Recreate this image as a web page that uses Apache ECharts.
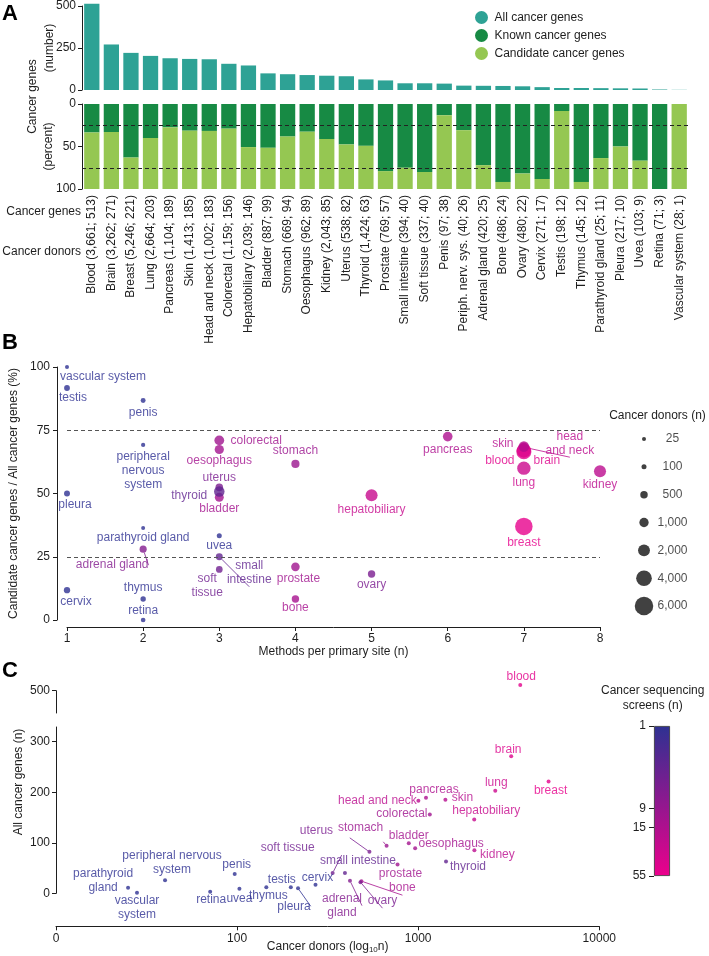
<!DOCTYPE html>
<html>
<head>
<meta charset="utf-8">
<script src="https://cdn.jsdelivr.net/npm/echarts@6/dist/echarts.min.js"></script>
<style>
  html, body { margin: 0; padding: 0; background: #fff; }
  #chart { width: 709px; height: 956px; }
</style>
</head>
<body>
<div id="chart"></div>
<script>
// ---- data ----
const siteLabels = ['Blood', 'Brain', 'Breast', 'Lung', 'Pancreas', 'Skin', 'Head and neck', 'Colorectal',
  'Hepatobiliary', 'Bladder', 'Stomach', 'Oesophagus', 'Kidney', 'Uterus', 'Thyroid', 'Prostate',
  'Small intestine', 'Soft tissue', 'Penis', 'Periph. nerv. sys.', 'Adrenal gland', 'Bone', 'Ovary',
  'Cervix', 'Testis', 'Thymus', 'Parathyroid gland', 'Pleura', 'Uvea', 'Retina', 'Vascular system'];
const siteNames = ['blood', 'brain', 'breast', 'lung', 'pancreas', 'skin', 'head and neck', 'colorectal',
  'hepatobiliary', 'bladder', 'stomach', 'oesophagus', 'kidney', 'uterus', 'thyroid', 'prostate',
  'small intestine', 'soft tissue', 'penis', 'peripheral nervous system', 'adrenal gland', 'bone', 'ovary',
  'cervix', 'testis', 'thymus', 'parathyroid gland', 'pleura', 'uvea', 'retina', 'vascular system'];
const donors = [3661, 3262, 5246, 2664, 1104, 1413, 1002, 1159, 2039, 887, 669, 962, 2043, 538, 1424, 769,
  394, 337, 97, 40, 420, 486, 480, 271, 198, 145, 25, 217, 103, 71, 28];
const genes = [513, 271, 221, 203, 189, 185, 183, 156, 146, 99, 94, 89, 85, 82, 63, 57,
  40, 40, 38, 26, 25, 24, 22, 17, 12, 12, 11, 10, 9, 3, 1];
// candidate share of all cancer genes (%), the rest are known cancer genes
const candidatePct = [66.5, 67, 37, 60, 72.5, 68.6, 68.3, 71, 49.3, 48.5, 61.7, 67.4, 58.8, 52.4, 50.8, 21,
  25, 20, 86.8, 69.2, 28, 8.3, 18.2, 11.8, 91.7, 8.3, 36.4, 50, 33.3, 0, 100];
const methods = [7, 7, 7, 7, 6, 7, 7, 3, 5, 3, 4, 3, 8, 3, 3, 4, 3, 3, 2, 2, 2, 4, 5, 1, 1, 2, 2, 1, 3, 2, 1];
// cancer sequencing screens per site (estimated from the colour scale)
const screens = [45, 40, 50, 28, 15, 18, 20, 11, 25, 12, 10, 12, 20, 5, 3, 11,
  3, 4, 1, 1, 6, 13, 5, 1, 1, 1, 1, 1, 1, 1, 1];
const legendDonors = [25, 100, 500, 1000, 2000, 4000, 6000];
const screenTicks = [1, 9, 15, 55];
const geneTicksC = [0, 100, 200, 300];

// ---- styling ----
const FONT = '"Liberation Sans", Arial, Helvetica, sans-serif';
const INK = '#1e1e1e';
const TEAL = '#2ea295';
const DARK_GREEN = '#178a44';
const LIGHT_GREEN = '#95c752';
const BLUE = '#2e3192';
const PINK = '#ec008c';
const dotSize = n => 3 + 0.2 * Math.sqrt(n);

// label centre offsets from the point (panel B)
const labelB = {
  'vascular system': { off: [36, 10] },
  'testis': { off: [6, 10] },
  'pleura': { off: [8, 11] },
  'cervix': { off: [9, 12] },
  'penis': { off: [0, 12] },
  'peripheral nervous system': { off: [0, 26], text: 'peripheral\nnervous\nsystem' },
  'parathyroid gland': { off: [0, 10] },
  'adrenal gland': { off: [-31, 16], line: true },
  'thymus': { off: [0, -11] },
  'retina': { off: [0, -9] },
  'colorectal': { off: [37, 0] },
  'oesophagus': { off: [0, 11] },
  'uterus': { off: [0, -10] },
  'thyroid': { off: [-30, 4] },
  'bladder': { off: [0, 11] },
  'uvea': { off: [0, 10] },
  'small intestine': { off: [30, 16], text: 'small\nintestine', line: true },
  'soft tissue': { off: [-12, 16], text: 'soft\ntissue' },
  'stomach': { off: [0, -13] },
  'prostate': { off: [3, 12] },
  'bone': { off: [0, 9] },
  'hepatobiliary': { off: [0, 14] },
  'ovary': { off: [0, 11] },
  'pancreas': { off: [0, 13] },
  'skin': { off: [-21, -3] },
  'head and neck': { off: [46, -4], text: 'head\nand neck', line: true },
  'blood': { off: [-24, 9] },
  'brain': { off: [23, 10] },
  'lung': { off: [0, 14] },
  'kidney': { off: [0, 13] },
  'breast': { off: [0, 16] }
};

// label centre offsets from the point (panel C)
const labelC = {
  'parathyroid gland': { off: [-25, -7], text: 'parathyroid\ngland' },
  'vascular system': { off: [0, 15], text: 'vascular\nsystem' },
  'peripheral nervous system': { off: [7, -17], text: 'peripheral nervous\nsystem' },
  'retina': { off: [1, 8] },
  'uvea': { off: [0, 10] },
  'penis': { off: [2, -9] },
  'thymus': { off: [2, 8] },
  'testis': { off: [-9, -8] },
  'pleura': { off: [-4, 18], line: true },
  'cervix': { off: [2, -7] },
  'soft tissue': { off: [-45, -25], line: true },
  'small intestine': { off: [13, -12] },
  'adrenal gland': { off: [-8, 25], text: 'adrenal\ngland', line: true },
  'uterus': { off: [-53, -21], line: true },
  'stomach': { off: [-26, -18], line: true },
  'prostate': { off: [3, 9] },
  'bone': { off: [41, 7], line: true },
  'ovary': { off: [22, 19], line: true },
  'bladder': { off: [0, -8] },
  'oesophagus': { off: [36, -5] },
  'colorectal': { off: [-28, -1] },
  'head and neck': { off: [-41, 0] },
  'pancreas': { off: [8, -8] },
  'skin': { off: [17, -2] },
  'hepatobiliary': { off: [12, -9] },
  'lung': { off: [1, -8] },
  'kidney': { off: [23, 4] },
  'thyroid': { off: [22, 5] },
  'brain': { off: [-3, -7] },
  'blood': { off: [1, -8] },
  'breast': { off: [2, 9] }
};

const fmt = n => n.toLocaleString('en-US');
const categoryLabels = siteLabels.map((s, i) => `${s} (${fmt(donors[i])}; ${fmt(genes[i])})`);

function pointLabel(cfg, name) {
  return {
    show: true,
    position: 'inside',
    offset: cfg.off,
    formatter: cfg.text || name,
    color: 'inherit',
    textBorderWidth: 0,
    fontSize: 12,
    lineHeight: 14,
    fontFamily: FONT
  };
}

function pointData(cfgs, xs, ys, sizes) {
  return siteNames.map((name, i) => {
    const cfg = cfgs[name] || { off: [0, 12] };
    return {
      name,
      value: [xs[i], ys[i], sizes ? sizes[i] : 0, Math.log(screens[i])],
      label: pointLabel(cfg, name),
      labelLine: { show: !!cfg.line, lineStyle: { width: 0.8 } }
    };
  });
}

const bData = pointData(labelB, methods, candidatePct, donors);
const cAll = pointData(labelC, donors, genes, null);
const C_LOWER_MAX = 329;
const cLow = cAll.filter(d => d.value[1] <= C_LOWER_MAX);
const cHigh = cAll.filter(d => d.value[1] > C_LOWER_MAX);

const axisLine = { show: true, onZero: false, lineStyle: { color: INK, width: 1 } };
const axisTick = { show: true, length: 4, lineStyle: { color: INK } };
const axisLabel = { fontSize: 12, color: INK, fontFamily: FONT };
const nameStyle = { fontSize: 12, color: INK, fontFamily: FONT };

const chart = echarts.init(document.getElementById('chart'));

const option = {
  animation: false,
  textStyle: { fontFamily: FONT, color: INK },
  legend: {
    data: ['All cancer genes', 'Known cancer genes', 'Candidate cancer genes'],
    orient: 'vertical',
    left: 470,
    top: 6,
    icon: 'circle',
    itemWidth: 16,
    itemHeight: 13,
    itemGap: 5,
    textStyle: { fontSize: 12, color: INK }
  },
  visualMap: {
    type: 'continuous',
    show: false,
    seriesIndex: [3, 5, 6],
    dimension: 3,
    min: 0,
    max: Math.log(screenTicks[screenTicks.length - 1]),
    inRange: { color: [BLUE, PINK] }
  },
  grid: [
    { left: 82, top: 6, width: 607, height: 84 },       // A counts
    { left: 82, top: 104, width: 607, height: 85 },     // A percent
    { left: 66.7, top: 367, width: 533.3, height: 253 }, // B
    { left: 634, top: 425, width: 20, height: 195 },    // B size legend
    { left: 56, top: 690.7, width: 543.3, height: 22.3 }, // C upper
    { left: 56, top: 727, width: 543.3, height: 166.3 },  // C lower
    { left: 654, top: 726, width: 16, height: 150 }      // colour bar
  ],
  xAxis: [
    { gridIndex: 0, type: 'category', data: categoryLabels, show: false },
    {
      gridIndex: 1, type: 'category', data: categoryLabels,
      axisLine: { show: false }, axisTick: { show: false },
      axisLabel: { ...axisLabel, rotate: 90, interval: 0, margin: 6 }
    },
    {
      gridIndex: 2, type: 'value', min: 1, max: 8, interval: 1, offset: 7,
      axisLine, axisTick, axisLabel: { ...axisLabel, margin: 6 }, splitLine: { show: false },
      name: 'Methods per primary site (n)', nameLocation: 'middle', nameGap: 19, nameMoveOverlap: false,
      nameTextStyle: nameStyle
    },
    { gridIndex: 3, type: 'value', min: -1, max: 1, show: false },
    { gridIndex: 4, type: 'log', logBase: 10, min: 10, max: 10000, show: false },
    {
      gridIndex: 5, type: 'log', logBase: 10, min: 10, max: 10000, offset: 33,
      axisLine, axisTick, splitLine: { show: false }, minorTick: { show: false },
      axisLabel: { ...axisLabel, margin: 6, formatter: v => (Math.round(v) === 10 ? '0' : String(Math.round(v))) },
      name: '{a|Cancer donors (log}{b|10}{a|n)}', nameLocation: 'middle', nameGap: 13, nameMoveOverlap: false,
      nameTextStyle: {
        rich: {
          a: { fontSize: 12, color: INK, fontFamily: FONT },
          b: { fontSize: 8, color: INK, fontFamily: FONT, verticalAlign: 'bottom', padding: [6, 0, 0, 0] }
        }
      }
    },
    { gridIndex: 6, type: 'category', data: ['screens'], show: false }
  ],
  yAxis: [
    {
      gridIndex: 0, type: 'value', min: 0, max: 500, interval: 250,
      axisLine, axisTick, axisLabel: { ...axisLabel, margin: 6 }, splitLine: { show: false },
      name: '(number)', nameLocation: 'middle', nameGap: 26, nameMoveOverlap: false, nameTextStyle: nameStyle
    },
    {
      gridIndex: 1, type: 'value', min: 0, max: 100, interval: 50, inverse: true,
      axisLine, axisTick, axisLabel: { ...axisLabel, margin: 6 }, splitLine: { show: false },
      name: '(percent)', nameLocation: 'middle', nameGap: 27, nameMoveOverlap: false, nameTextStyle: nameStyle
    },
    {
      gridIndex: 2, type: 'value', min: 0, max: 100, interval: 25, offset: 10,
      axisLine, axisTick, axisLabel: { ...axisLabel, margin: 7 }, splitLine: { show: false },
      name: 'Candidate cancer genes / All cancer genes (%)', nameLocation: 'middle', nameGap: 37,
      nameMoveOverlap: false, nameTextStyle: nameStyle
    },
    { gridIndex: 3, type: 'category', data: legendDonors.map(String), inverse: true, show: false },
    {
      gridIndex: 4, type: 'value', min: 450, max: 500,
      axisLine, splitLine: { show: false },
      axisTick: { ...axisTick, customValues: [500] },
      axisLabel: { ...axisLabel, margin: 6, customValues: [500] }
    },
    {
      gridIndex: 5, type: 'value', min: 0, max: C_LOWER_MAX,
      axisLine, splitLine: { show: false },
      axisTick: { ...axisTick, customValues: geneTicksC },
      axisLabel: { ...axisLabel, margin: 6, customValues: geneTicksC }
    },
    {
      gridIndex: 6, type: 'value', min: 0, max: Math.log(screenTicks[screenTicks.length - 1]), inverse: true,
      axisLine: { show: false }, splitLine: { show: false },
      axisTick: { show: true, length: 5, lineStyle: { color: INK }, customValues: screenTicks.map(Math.log) },
      axisLabel: {
        ...axisLabel, margin: 8, customValues: screenTicks.map(Math.log),
        formatter: v => String(Math.round(Math.exp(v)))
      }
    }
  ],
  series: [
    {
      name: 'All cancer genes', type: 'bar', xAxisIndex: 0, yAxisIndex: 0,
      data: genes, barCategoryGap: '22%', clip: false,
      itemStyle: { color: TEAL }
    },
    {
      name: 'Known cancer genes', type: 'bar', xAxisIndex: 1, yAxisIndex: 1, stack: 'pct',
      data: candidatePct.map(v => 100 - v), barCategoryGap: '22%',
      itemStyle: { color: DARK_GREEN }
    },
    {
      name: 'Candidate cancer genes', type: 'bar', xAxisIndex: 1, yAxisIndex: 1, stack: 'pct',
      data: candidatePct, barCategoryGap: '22%',
      itemStyle: { color: LIGHT_GREEN },
      markLine: {
        silent: true, symbol: 'none', label: { show: false },
        lineStyle: { color: '#222', type: [4, 3], width: 1 },
        data: [{ yAxis: 25 }, { yAxis: 75 }]
      }
    },
    {
      name: 'B', type: 'scatter', xAxisIndex: 2, yAxisIndex: 2, clip: false,
      data: bData,
      symbolSize: v => dotSize(v[2]),
      markLine: {
        silent: true, symbol: 'none', label: { show: false },
        lineStyle: { color: '#555', type: [4, 3], width: 1 },
        data: [{ yAxis: 25 }, { yAxis: 75 }]
      }
    },
    {
      name: 'size legend', type: 'scatter', xAxisIndex: 3, yAxisIndex: 3,
      data: legendDonors.map((v, i) => [0, i, v]),
      symbolSize: v => dotSize(v[2]),
      itemStyle: { color: '#111' },
      label: {
        show: true, position: 'inside', offset: [28.5, 0], color: INK, textBorderWidth: 0,
        fontSize: 12, fontFamily: FONT, formatter: p => fmt(p.value[2])
      }
    },
    {
      name: 'C low', type: 'scatter', xAxisIndex: 5, yAxisIndex: 5, clip: false,
      data: cLow, symbolSize: 4
    },
    {
      name: 'C high', type: 'scatter', xAxisIndex: 4, yAxisIndex: 4, clip: false,
      data: cHigh, symbolSize: 4
    },
    {
      name: 'colour bar', type: 'bar', xAxisIndex: 6, yAxisIndex: 6, silent: true,
      data: [Math.log(screenTicks[screenTicks.length - 1])], barWidth: '100%',
      itemStyle: {
        color: new echarts.graphic.LinearGradient(0, 0, 0, 1, [
          { offset: 0, color: BLUE }, { offset: 1, color: PINK }
        ]),
        borderColor: '#333', borderWidth: 0.8
      }
    }
  ],
  graphic: [
    { type: 'text', x: 2, y: 3, style: { text: 'A', font: 'bold 22px ' + FONT, fill: '#000' } },
    { type: 'text', x: 2, y: 332, style: { text: 'B', font: 'bold 22px ' + FONT, fill: '#000' } },
    { type: 'text', x: 2, y: 660, style: { text: 'C', font: 'bold 22px ' + FONT, fill: '#000' } },
    {
      type: 'text', x: 33, y: 96.5, rotation: Math.PI / 2,
      style: { text: 'Cancer genes', font: '12px ' + FONT, fill: INK, align: 'center', verticalAlign: 'middle', textAlign: 'center', textVerticalAlign: 'middle' }
    },
    {
      type: 'text', x: 81, y: 211.7,
      style: { text: 'Cancer genes', font: '12px ' + FONT, fill: INK, align: 'right', verticalAlign: 'middle', textAlign: 'right', textVerticalAlign: 'middle' }
    },
    {
      type: 'text', x: 81, y: 251.7,
      style: { text: 'Cancer donors', font: '12px ' + FONT, fill: INK, align: 'right', verticalAlign: 'middle', textAlign: 'right', textVerticalAlign: 'middle' }
    },
    {
      type: 'text', x: 657.5, y: 416,
      style: { text: 'Cancer donors (n)', font: '12px ' + FONT, fill: INK, align: 'center', verticalAlign: 'middle', textAlign: 'center', textVerticalAlign: 'middle' }
    },
    {
      type: 'text', x: 652.7, y: 698.3,
      style: { text: 'Cancer sequencing\nscreens (n)', font: '12px ' + FONT, lineHeight: 15.5, fill: INK, align: 'center', verticalAlign: 'middle', textAlign: 'center', textVerticalAlign: 'middle' }
    },
    {
      type: 'text', x: 19, y: 782, rotation: Math.PI / 2,
      style: { text: 'All cancer genes (n)', font: '12px ' + FONT, fill: INK, align: 'center', verticalAlign: 'middle', textAlign: 'center', textVerticalAlign: 'middle' }
    }
  ]
};

chart.setOption(option);
</script>
</body>
</html>
